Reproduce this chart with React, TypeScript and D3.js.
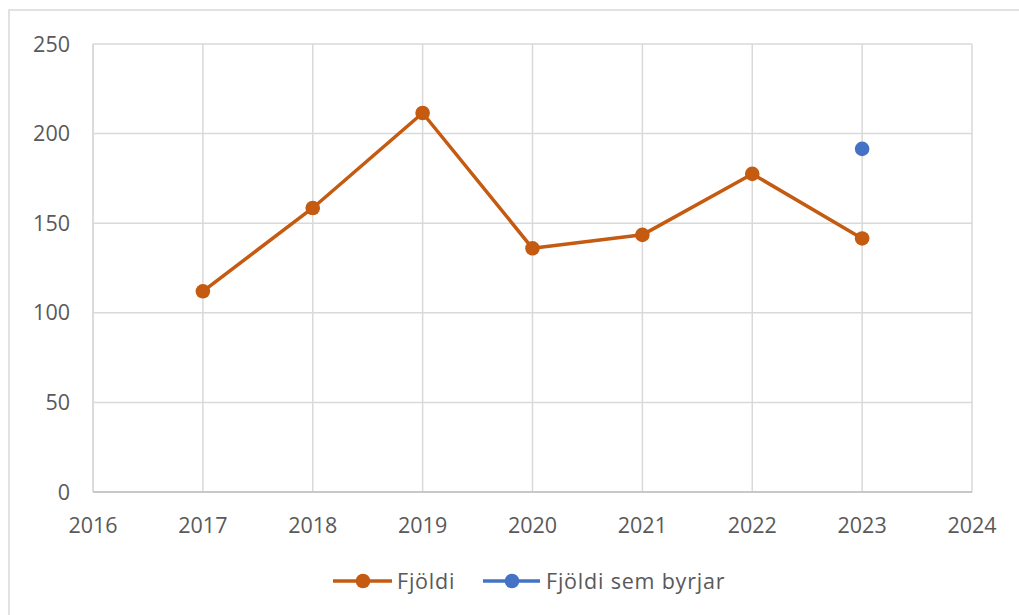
import React from "react";
import * as d3 from "d3";

const years = [2017, 2018, 2019, 2020, 2021, 2022, 2023];
const fjoldi = [112, 158.5, 211.5, 136, 143.5, 177.5, 141.5];
const byrjarYears = [2023];
const byrjar = [191.5];
const yTicks = [0, 50, 100, 150, 200, 250];
const xTicks = [2016, 2017, 2018, 2019, 2020, 2021, 2022, 2023, 2024];
const seriesNames = ["Fjöldi", "Fjöldi sem byrjar"];

const W = 1019;
const H = 615;
const left = 93, right = 972, top = 44, bottom = 492;
const ORANGE = "#C55A11";
const BLUE = "#4472C4";
const GRID = "#D9D9D9";
const TEXT = "#595959";
const FONT = "'Open Sans', sans-serif";

export default function App() {
  const x = d3.scaleLinear().domain([2016, 2024]).range([left, right]);
  const y = d3.scaleLinear().domain([0, 250]).range([bottom, top]);
  const line = d3
    .line<number>()
    .x((_, i) => x(years[i]))
    .y((d) => y(d));

  return (
    <svg
      width={W}
      height={H}
      style={{ position: "absolute", left: 0, top: 0 }}
      fontFamily={FONT}
    >
      <rect x={0} y={0} width={W} height={H} fill="#fff" />
      <rect x={9} y={10} width={W + 20} height={H + 20} fill="none" stroke={GRID} strokeWidth={1.5} />
      {yTicks.map((t) => (
        <line key={"gy" + t} x1={left} x2={right} y1={y(t)} y2={y(t)} stroke={GRID} strokeWidth={1.5} />
      ))}
      {xTicks.map((t) => (
        <line key={"gx" + t} x1={x(t)} x2={x(t)} y1={top} y2={bottom} stroke={GRID} strokeWidth={1.5} />
      ))}
      <line x1={left} x2={left} y1={top} y2={bottom} stroke={GRID} strokeWidth={1.5} />
      <line x1={left} x2={right} y1={bottom} y2={bottom} stroke={"#BFBFBF"} strokeWidth={1.5} />
      {yTicks.map((t) => (
        <text key={"ly" + t} x={70} y={y(t)} dy="0.35em" textAnchor="end" fontSize={21.5} fill={TEXT}>
          {t}
        </text>
      ))}
      {xTicks.map((t) => (
        <text key={"lx" + t} x={x(t)} y={533} textAnchor="middle" fontSize={21.5} fill={TEXT}>
          {t}
        </text>
      ))}
      <path d={line(fjoldi) || ""} fill="none" stroke={ORANGE} strokeWidth={3.5} strokeLinejoin="round" />
      {fjoldi.map((v, i) => (
        <circle key={"o" + i} cx={x(years[i])} cy={y(v)} r={7.3} fill={ORANGE} />
      ))}
      {byrjar.map((v, i) => (
        <circle key={"b" + i} cx={x(byrjarYears[i])} cy={y(v)} r={7.3} fill={BLUE} />
      ))}
      <g>
        <line x1={333} x2={392} y1={581} y2={581} stroke={ORANGE} strokeWidth={3.5} />
        <circle cx={363} cy={581} r={7.3} fill={ORANGE} />
        <text x={397} y={581} dy="0.35em" fontSize={21.5} letterSpacing={0.8} fill={TEXT}>{seriesNames[0]}</text>
        <line x1={483} x2={540} y1={581} y2={581} stroke={BLUE} strokeWidth={3.5} />
        <circle cx={512} cy={581} r={7.3} fill={BLUE} />
        <text x={546} y={581} dy="0.35em" fontSize={21.5} letterSpacing={0.8} fill={TEXT}>{seriesNames[1]}</text>
      </g>
    </svg>
  );
}
